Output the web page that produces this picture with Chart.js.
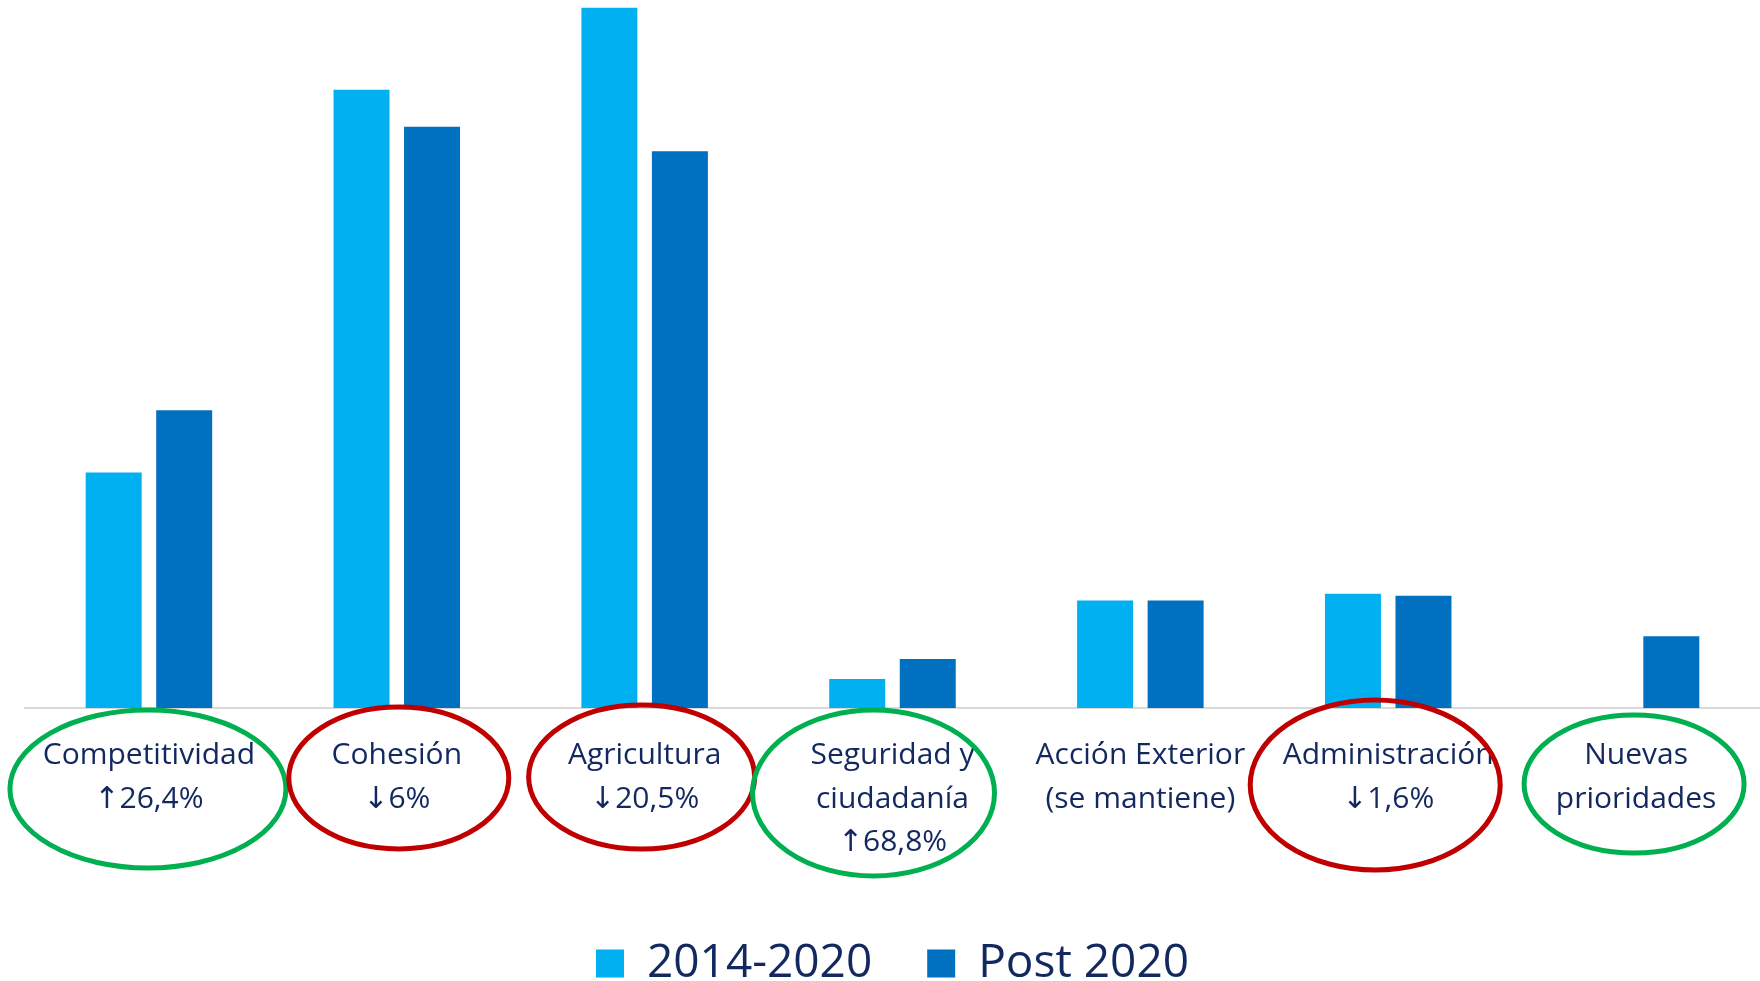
<!DOCTYPE html>
<html lang="es">
<head>
<meta charset="utf-8">
<title>Marco financiero UE</title>
<script src="https://cdn.jsdelivr.net/npm/chart.js@4.4.1/dist/chart.umd.min.js"></script>
<style>
  html, body { margin: 0; padding: 0; background: #fff; }
  canvas { display: block; }
</style>
</head>
<body>
<canvas id="chartCanvas" width="1760" height="981"></canvas>
<script>
const categories = [
    ['Competitividad', '↑26,4%'],
    ['Cohesión', '↓6%'],
    ['Agricultura', '↓20,5%'],
    ['Seguridad y', 'ciudadanía', '↑68,8%'],
    ['Acción Exterior', '(se mantiene)'],
    ['Administración', '↓1,6%'],
    ['Nuevas', 'prioridades']
];
const seriesNames = ['2014-2020', 'Post 2020'];
const values2014 = [141.3, 370.9, 420.1, 17.4, 64.5, 68.5, null];
const valuesPost = [178.6, 348.7, 334.0, 29.4, 64.5, 67.4, 43.0];
// up = circulo verde, down = circulo rojo, null = sin circulo
const trend = ['up', 'down', 'down', 'up', null, 'down', 'up'];

// forma de cada circulo, relativa al centro de la categoria y al eje
const ringShape = [
    { dx: -1, dy: 81, rx: 138, ry: 79 },
    { dx: 2, dy: 70, rx: 110, ry: 71 },
    { dx: -3, dy: 69, rx: 113, ry: 72 },
    { dx: -19, dy: 85, rx: 121, ry: 83 },
    null,
    { dx: -13, dy: 77, rx: 125, ry: 85 },
    { dx: -2, dy: 76, rx: 110, ry: 69 }
];

const navy = '#12285f';
const fontFamily = "'Open Sans', 'DejaVu Sans', sans-serif";

const ringsPlugin = {
    id: 'rings',
    afterDraw(chart) {
        const ctx = chart.ctx;
        const xScale = chart.scales.x;
        ctx.save();
        ctx.lineWidth = 5;
        trend.forEach((t, i) => {
            if (!t) return;
            const r = ringShape[i];
            ctx.strokeStyle = t === 'up' ? '#00b050' : '#c00000';
            ctx.beginPath();
            ctx.ellipse(xScale.getPixelForValue(i) + r.dx, xScale.top + r.dy, r.rx, r.ry, 0, 0, Math.PI * 2);
            ctx.stroke();
        });
        ctx.restore();
    }
};

const ctx = document.getElementById('chartCanvas').getContext('2d');
const chart = new Chart(ctx, {
    type: 'bar',
    data: {
        labels: categories,
        datasets: [
            {
                label: seriesNames[0],
                data: values2014,
                backgroundColor: '#00b0f0',
                borderWidth: 0
            },
            {
                label: seriesNames[1],
                data: valuesPost,
                backgroundColor: '#0070c0',
                borderWidth: 0
            }
        ]
    },
    options: {
        responsive: false,
        animation: false,
        devicePixelRatio: 1,
        categoryPercentage: 0.569,
        barPercentage: 0.794,
        layout: {
            padding: { left: 25, right: 0, top: 0, bottom: -15.4 }
        },
        plugins: {
            tooltip: { enabled: false },
            legend: {
                position: 'bottom',
                labels: {
                    boxWidth: 28,
                    boxHeight: 28,
                    padding: 55,
                    color: navy,
                    font: { family: fontFamily, size: 46 }
                }
            }
        },
        scales: {
            y: {
                display: false,
                min: 0,
                max: 424.8
            },
            x: {
                grid: { display: false },
                border: { display: true, color: '#d9d9d9', width: 2 },
                ticks: {
                    autoSkip: false,
                    maxRotation: 0,
                    minRotation: 0,
                    padding: 18,
                    color: navy,
                    font: { family: fontFamily, size: 30, lineHeight: 1.45 }
                },
                afterFit(scale) {
                    scale.height = 177.4;
                }
            }
        }
    },
    plugins: [ringsPlugin]
});
</script>
</body>
</html>
